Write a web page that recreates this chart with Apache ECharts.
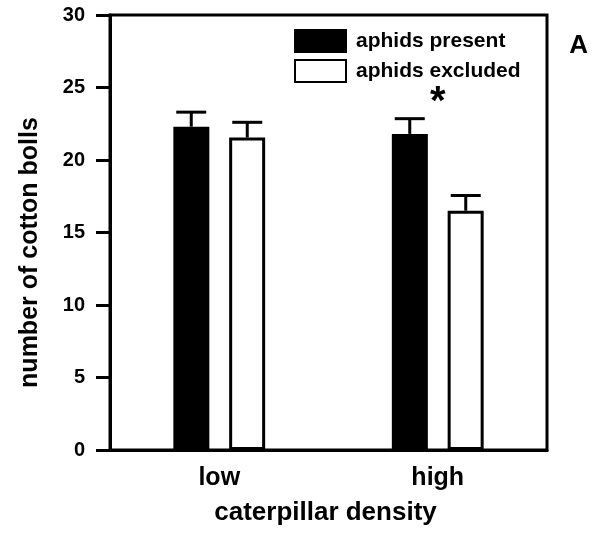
<!DOCTYPE html>
<html>
<head>
<meta charset="utf-8">
<script src="https://cdn.jsdelivr.net/npm/echarts@6/dist/echarts.min.js"></script>
<style>
html,body{margin:0;padding:0;background:#fff;}
#chart{width:593px;height:537px;}
</style>
</head>
<body>
<div id="chart"></div>
<script>
const categories = ['low', 'high'];
const seriesNames = ['aphids present', 'aphids excluded'];
const presentValues = [22.3, 21.8];
const presentErrors = [1.0, 1.05];
const excludedValues = [21.55, 16.5];
const excludedErrors = [1.05, 1.05];
const yTicks = [0, 5, 10, 15, 20, 25, 30];
const significance = [{ category: 1, y: 23.9, text: '*' }];
const panelLabel = 'A';

const FONT = '"Liberation Sans", Arial, sans-serif';
const BAR_W = 36, BORDER = 3, OFFSET = 28, CAP = 30;

function errorSeries(values, errors, sign) {
  return {
    type: 'custom',
    silent: true,
    z: 1,
    data: values.map((v, i) => [i, v, v + errors[i]]),
    renderItem: function (params, api) {
      const base = api.coord([api.value(0), api.value(1)]);
      const top = api.coord([api.value(0), api.value(2)]);
      const x = base[0] + sign * OFFSET;
      const st = { stroke: '#000', lineWidth: 3 };
      return {
        type: 'group',
        children: [
          { type: 'line', shape: { x1: x, y1: base[1], x2: x, y2: top[1] }, style: st },
          { type: 'line', shape: { x1: x - CAP / 2, y1: top[1], x2: x + CAP / 2, y2: top[1] }, style: st }
        ]
      };
    }
  };
}

const chart = echarts.init(document.getElementById('chart'));
chart.setOption({
  animation: false,
  backgroundColor: '#fff',
  grid: { left: 110, top: 15, width: 437, height: 435, show: true, borderColor: '#000', borderWidth: 3, backgroundColor: 'transparent' },
  legend: {
    orient: 'vertical',
    left: 289, top: 24,
    itemWidth: 51, itemHeight: 22, itemGap: 6,
    icon: 'rect',
    data: seriesNames,
    textStyle: { fontFamily: FONT, fontWeight: 'bold', fontSize: 21, color: '#000', padding: [0, 0, 0, 5] }
  },
  xAxis: {
    type: 'category',
    data: categories,
    axisLine: { lineStyle: { color: '#000', width: 3 } },
    axisTick: { alignWithLabel: true, length: 10, lineStyle: { color: '#000', width: 3 } },
    axisLabel: { fontFamily: FONT, fontWeight: 'bold', fontSize: 25, color: '#000', margin: 16 },
    name: 'caterpillar density',
    nameLocation: 'middle',
    nameGap: 50,
    nameTextStyle: { fontFamily: FONT, fontWeight: 'bold', fontSize: 26, color: '#000', padding: [0, 6, 0, 0] }
  },
  yAxis: {
    type: 'value',
    min: yTicks[0], max: yTicks[yTicks.length - 1], interval: yTicks[1] - yTicks[0],
    splitLine: { show: false },
    axisLine: { show: true, lineStyle: { color: '#000', width: 3 } },
    axisTick: { show: true, length: 14, lineStyle: { color: '#000', width: 3 } },
    axisLabel: { fontFamily: FONT, fontWeight: 'bold', fontSize: 20, color: '#000', margin: 25 },
    name: 'number of cotton bolls',
    nameLocation: 'middle',
    nameRotate: 90,
    nameGap: 67,
    nameTextStyle: { fontFamily: FONT, fontWeight: 'bold', fontSize: 25, color: '#000', padding: [0, 40, 0, 0] }
  },
  series: [
    {
      name: seriesNames[0], type: 'bar', data: presentValues, barWidth: BAR_W, barGap: '55%', z: 2,
      itemStyle: { color: '#000', borderColor: '#000', borderWidth: BORDER }
    },
    {
      name: seriesNames[1], type: 'bar', data: excludedValues, barWidth: BAR_W, z: 2,
      itemStyle: { color: '#fff', borderColor: '#000', borderWidth: BORDER }
    },
    errorSeries(presentValues, presentErrors, -1),
    errorSeries(excludedValues, excludedErrors, 1),
    {
      type: 'custom', silent: true, z: 3,
      data: significance.map(s => [s.category, s.y, s.text]),
      renderItem: function (params, api) {
        const p = api.coord([api.value(0), api.value(1)]);
        return { type: 'text', x: p[0], y: p[1], style: { text: significance[params.dataIndex].text, fontFamily: FONT, fontWeight: 'bold', fontSize: 40, fill: '#000', align: 'center', verticalAlign: 'middle' } };
      }
    }
  ],
  graphic: [
    { type: 'text', right: 5, top: 33, style: { text: panelLabel, fontFamily: FONT, fontWeight: 'bold', fontSize: 26, fill: '#000' } }
  ]
});
</script>
</body>
</html>
